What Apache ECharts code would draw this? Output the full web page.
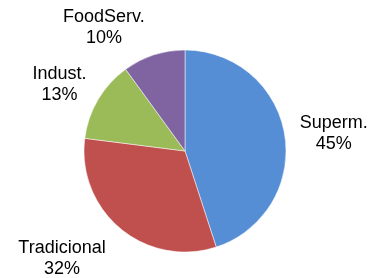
<!DOCTYPE html>
<html>
<head>
<meta charset="utf-8">
<script src="https://cdn.jsdelivr.net/npm/echarts@6/dist/echarts.min.js"></script>
<style>
    html, body { margin: 0; padding: 0; background: #fff; }
    #chart { width: 382px; height: 278px; }
</style>
</head>
<body>
<div id="chart"></div>
<script>
// data
const categories = ['Superm.', 'Tradicional', 'Indust.', 'FoodServ.'];
const shares = [45, 32, 13, 10];
const colors = ['#558ED5', '#C0504D', '#9BBB59', '#8064A2'];
// how far each label sits out from the rim, plus a small nudge
const labelGap = [10, 25, 18, 26];
const labelNudge = [[0, 0], [6, 10], [9, -6], [4, -3]];

const chart = echarts.init(document.getElementById('chart'));
let option = {
    animation: false,
    series: [{
        type: 'pie',
        center: [185, 151],
        radius: [0, 101],
        startAngle: 90,
        avoidLabelOverlap: false,
        itemStyle: {
            borderColor: '#fff',
            borderWidth: 0.5
        },
        label: {
            show: true,
            position: 'outside',
            formatter: '{b}\n{d}%',
            fontFamily: 'Liberation Sans, Arial, sans-serif',
            fontSize: 18,
            lineHeight: 21,
            color: '#000'
        },
        labelLine: { show: false, length2: 0 },
        // keep the library's spot but center the two lines
        labelLayout: function (params) {
            const r = params.labelRect;
            const n = labelNudge[params.dataIndex];
            return {
                x: r.x + r.width / 2 + n[0],
                y: r.y + r.height / 2 + n[1],
                align: 'center',
                verticalAlign: 'middle'
            };
        },
        data: categories.map((name, i) => ({
            name: name,
            value: shares[i],
            itemStyle: { color: colors[i] },
            labelLine: { show: false, length: labelGap[i], length2: 0 }
        }))
    }]
};
chart.setOption(option);
</script>
</body>
</html>
